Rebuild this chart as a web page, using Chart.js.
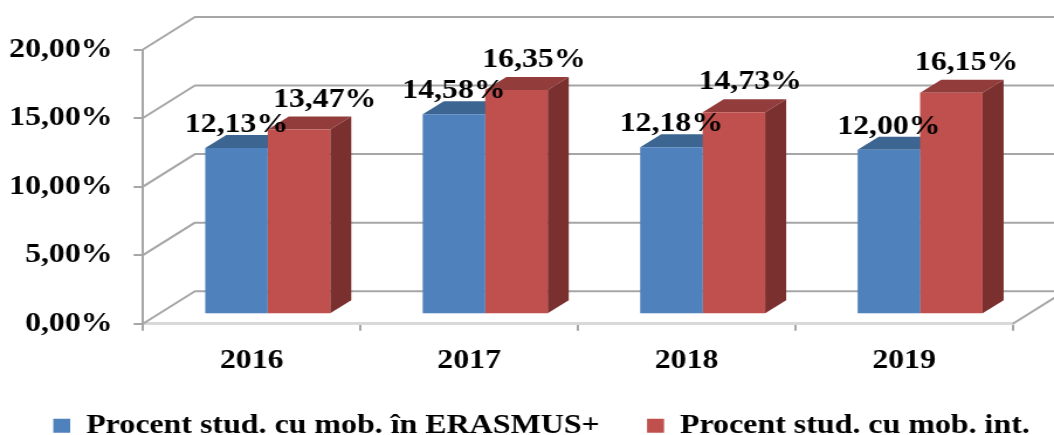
<!DOCTYPE html>
<html>
<head>
<meta charset="utf-8">
<style>
   html, body { margin: 0; padding: 0; background: #fff; }
   /* the reference is a picture pulled wider than it was drawn, so the canvas is too */
   canvas { display: block; filter: blur(0.3px); }
</style>
<script src="https://cdn.jsdelivr.net/npm/chart.js@4"></script>
</head>
<body>
<canvas id="chart" width="901" height="435" style="width:1054px;height:435px"></canvas>
<script>
var categories = ['2016', '2017', '2018', '2019'];
var erasmus = [12.13, 14.58, 12.18, 12.00];
var international = [13.47, 16.35, 14.73, 16.15];
var series_names = ['Procent stud. cu mob. în ERASMUS+', 'Procent stud. cu mob. int.'];
var y_ticks = [0, 5, 10, 15, 20];

// colours of the front, top and side of a bar
var faces = [
   { front: '#4f81bd', top: '#3d6592', side: '#3d6592' },
   { front: '#c0504d', top: '#923d3b', side: '#7a302f' }
];
// the picture moves some labels right of their bar
var label_shift = [[0, 0, 0, 0], [22, 15, 14, 13]];
var label_lift = [16, 23];

var FONT = '"Liberation Serif"';
var GRID = '#a6a6a6';
// wall is this far behind the axis plane, bars stand part of the way back
var WALL = { x: 44.4, y: -32.5 };
var BAR_PLANE = { x: 13.7, y: -9.5 };
var BAR_DEPTH = { x: 18, y: -13 };

function fmt(v) {
   return v.toFixed(2).replace('.', ',') + '%';
}

function poly(ctx, pts, color) {
   ctx.fillStyle = color;
   ctx.beginPath();
   ctx.moveTo(pts[0][0], pts[0][1]);
   for (var p of pts.slice(1)) ctx.lineTo(p[0], p[1]);
   ctx.closePath();
   ctx.fill();
}

var box3d = {
   id: 'box3d',
   afterLayout: function (chart) {
      // wide gap between legend items needs a big padding, which also pushes it down
      chart.legend.top -= 2;
      chart.legend.bottom -= 2;
   },
   beforeDatasetsDraw: function (chart) {
      var ctx = chart.ctx, area = chart.chartArea, y = chart.scales.y;
      var right = chart.width;

      // back wall, side wall and floor lines
      ctx.save();
      ctx.strokeStyle = GRID;
      ctx.lineWidth = 2;
      ctx.lineJoin = 'round';
      for (var t of y_ticks) {
         var py = y.getPixelForValue(t);
         ctx.beginPath();
         ctx.moveTo(area.left, py);
         ctx.lineTo(area.left + WALL.x, py + WALL.y);
         ctx.lineTo(right, py + WALL.y);
         ctx.stroke();
      }
      ctx.beginPath();
      ctx.moveTo(area.right, area.bottom);
      ctx.lineTo(area.right + WALL.x, area.bottom + WALL.y);
      ctx.stroke();
      ctx.restore();

      // the library draws the fronts, the depth goes in behind them
      ctx.save();
      ctx.translate(BAR_PLANE.x, BAR_PLANE.y);
      chart.data.datasets.forEach(function (ds, i) {
         chart.getDatasetMeta(i).data.forEach(function (bar) {
            var l = bar.x - bar.width / 2, r = bar.x + bar.width / 2;
            var dx = BAR_DEPTH.x, dy = BAR_DEPTH.y;
            poly(ctx, [[l, bar.y], [l + dx, bar.y + dy], [r + dx, bar.y + dy], [r, bar.y]], faces[i].top);
            poly(ctx, [[r, bar.y], [r + dx, bar.y + dy], [r + dx, bar.base + dy], [r, bar.base]], faces[i].side);
         });
      });
   },
   afterDatasetsDraw: function (chart) {
      var ctx = chart.ctx;
      ctx.restore();

      ctx.save();
      ctx.font = 'bold 27.2px ' + FONT;
      ctx.fillStyle = '#000';
      ctx.textAlign = 'center';
      ctx.textBaseline = 'alphabetic';
      chart.data.datasets.forEach(function (ds, i) {
         chart.getDatasetMeta(i).data.forEach(function (bar, j) {
            ctx.fillText(fmt(ds.data[j]), bar.x + BAR_PLANE.x + label_shift[i][j], bar.y + BAR_PLANE.y - label_lift[i]);
         });
      });
      ctx.restore();
   }
};

new Chart(document.getElementById('chart').getContext('2d'), {
   type: 'bar',
   data: {
      labels: categories,
      datasets: [
         { label: series_names[0], data: erasmus, backgroundColor: faces[0].front, borderWidth: 0 },
         { label: series_names[1], data: international, backgroundColor: faces[1].front, borderWidth: 0 }
      ]
   },
   plugins: [box3d],
   options: {
      responsive: false,
      animation: false,
      layout: { padding: { left: -15, top: 49.5, right: -19.8, bottom: -16.5 } },
      datasets: { bar: { categoryPercentage: 0.5747, barPercentage: 1 } },
      plugins: {
         tooltip: { enabled: false },
         legend: {
            position: 'bottom',
            align: 'end',
            labels: {
               boxWidth: 14.5,
               boxHeight: 14,
               padding: 40.5,
               color: '#000',
               font: { family: FONT, size: 27.3, weight: 'bold', lineHeight: 1 }
            }
         }
      },
      scales: {
         x: {
            grid: { drawOnChartArea: false, color: GRID, lineWidth: 2, tickLength: 7 },
            border: { color: '#d9d9d9', width: 3 },
            ticks: { color: '#000', padding: 14, font: { family: FONT, size: 27.2, weight: 'bold' } },
            afterFit: function (s) { s.height = 50; }
         },
         y: {
            min: 0,
            max: 20,
            afterBuildTicks: function (s) { s.ticks = y_ticks.map(function (v) { return { value: v }; }); },
            grid: { drawOnChartArea: false, color: GRID, lineWidth: 2, tickLength: 8 },
            border: { color: GRID, width: 2 },
            ticks: { color: '#000', padding: 18, callback: fmt, font: { family: FONT, size: 27.2, weight: 'bold' } },
            afterFit: function (s) { s.width = 137.2; }
         },
         // only keeps the plot clear of the right edge
         spacer: {
            position: 'right',
            display: true,
            min: 0,
            max: 1,
            grid: { display: false },
            border: { display: false },
            ticks: { display: false },
            afterFit: function (s) { s.width = 55; }
         }
      }
   }
});
</script>
</body>
</html>
